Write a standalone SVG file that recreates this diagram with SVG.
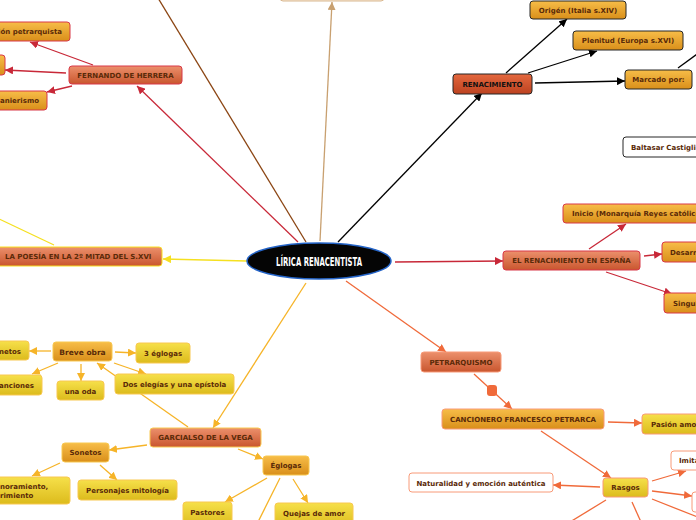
<svg xmlns="http://www.w3.org/2000/svg" width="696" height="520" viewBox="0 0 696 520">
<defs>
<linearGradient id="gMain" x1="0" y1="0" x2="0" y2="1"><stop offset="0" stop-color="#ec906c"/><stop offset="1" stop-color="#c9562e"/></linearGradient>
<linearGradient id="gRed" x1="0" y1="0" x2="0" y2="1"><stop offset="0" stop-color="#e4683e"/><stop offset="1" stop-color="#bc4220"/></linearGradient>
<linearGradient id="gOr" x1="0" y1="0" x2="0" y2="1"><stop offset="0" stop-color="#f7bd48"/><stop offset="1" stop-color="#d98f1a"/></linearGradient>
<linearGradient id="gYe" x1="0" y1="0" x2="0" y2="1"><stop offset="0" stop-color="#f6e04a"/><stop offset="1" stop-color="#dcbb1c"/></linearGradient>
<marker id="aRed" viewBox="0 0 8 8" refX="8" refY="4" markerWidth="8" markerHeight="8" markerUnits="userSpaceOnUse" orient="auto"><path d="M0,0 L8,4 L0,8 z" fill="#c82838"/></marker>
<marker id="aBlk" viewBox="0 0 8 8" refX="8" refY="4" markerWidth="8" markerHeight="8" markerUnits="userSpaceOnUse" orient="auto"><path d="M0,0 L8,4 L0,8 z" fill="#000"/></marker>
<marker id="aYel" viewBox="0 0 8 8" refX="8" refY="4" markerWidth="8" markerHeight="8" markerUnits="userSpaceOnUse" orient="auto"><path d="M0,0 L8,4 L0,8 z" fill="#f5e020"/></marker>
<marker id="aGld" viewBox="0 0 8 8" refX="8" refY="4" markerWidth="8" markerHeight="8" markerUnits="userSpaceOnUse" orient="auto"><path d="M0,0 L8,4 L0,8 z" fill="#f6b428"/></marker>
<marker id="aOrg" viewBox="0 0 8 8" refX="8" refY="4" markerWidth="8" markerHeight="8" markerUnits="userSpaceOnUse" orient="auto"><path d="M0,0 L8,4 L0,8 z" fill="#f06a3a"/></marker>
<marker id="aTan" viewBox="0 0 8 8" refX="8" refY="4" markerWidth="8" markerHeight="8" markerUnits="userSpaceOnUse" orient="auto"><path d="M0,0 L8,4 L0,8 z" fill="#c8a070"/></marker>
</defs>
<style>
text{font-family:"DejaVu Sans",Verdana,sans-serif;font-weight:bold;font-size:7px;fill:#5a2a08}
.c{text-anchor:middle}
.e{text-anchor:end}
rect{rx:3;ry:3;stroke-width:1}
.main{fill:url(#gMain)}
.red{fill:url(#gRed)}
.or{fill:url(#gOr)}
.ye{fill:url(#gYe)}
.wh{fill:#fff}
.sR{stroke:#d83848}
.sK{stroke:#262626}
.sY{stroke:#f8e020}
.sG{stroke:#f8c850}
.sO{stroke:#f89a78}
#connectors line{stroke-width:1.3;fill:none}
.lR{stroke:#c82838}
.lK{stroke:#000}
.lY{stroke:#f5e020}
.lG{stroke:#f6b428}
.lO{stroke:#f06a3a}
.lT{stroke:#c8a070}
.lB{stroke:#8b4513}
</style>
<rect width="696" height="520" fill="#fff" rx="0"/>
<g id="connectors">
<line class="lT" x1="320" y1="241" x2="332" y2="2" marker-end="url(#aTan)"/>
<line class="lB" x1="306" y1="242" x2="158" y2="-2"/>
<line class="lR" x1="298" y1="242" x2="137" y2="86" marker-end="url(#aRed)"/>
<line class="lR" x1="93" y1="65" x2="30" y2="42" marker-end="url(#aRed)"/>
<line class="lR" x1="66" y1="73" x2="5" y2="70" marker-end="url(#aRed)"/>
<line class="lR" x1="72" y1="86" x2="47" y2="92" marker-end="url(#aRed)"/>
<line class="lK" x1="338" y1="242" x2="482" y2="93" marker-end="url(#aBlk)"/>
<line class="lK" x1="506" y1="73" x2="567" y2="19" marker-end="url(#aBlk)"/>
<line class="lK" x1="528" y1="73" x2="597" y2="51" marker-end="url(#aBlk)"/>
<line class="lK" x1="535" y1="83" x2="625" y2="81" marker-end="url(#aBlk)"/>
<line class="lK" x1="678" y1="68" x2="700" y2="52"/>
<line class="lR" x1="395" y1="262" x2="503" y2="261" marker-end="url(#aRed)"/>
<line class="lR" x1="589" y1="249" x2="626" y2="224" marker-end="url(#aRed)"/>
<line class="lR" x1="644" y1="256" x2="662" y2="254" marker-end="url(#aRed)"/>
<line class="lR" x1="606" y1="272" x2="672" y2="294" marker-end="url(#aRed)"/>
<line class="lY" x1="247" y1="261" x2="163" y2="259" marker-end="url(#aYel)"/>
<line class="lY" x1="54" y1="245" x2="-5" y2="217"/>
<line class="lG" x1="306" y1="283" x2="213" y2="428" marker-end="url(#aGld)"/>
<line class="lG" x1="188" y1="427" x2="97" y2="363" marker-end="url(#aGld)"/>
<line class="lG" x1="51" y1="351" x2="29" y2="351" marker-end="url(#aGld)"/>
<line class="lG" x1="58" y1="363" x2="32" y2="374" marker-end="url(#aGld)"/>
<line class="lG" x1="81" y1="364" x2="81" y2="381" marker-end="url(#aGld)"/>
<line class="lG" x1="115" y1="352" x2="136" y2="353" marker-end="url(#aGld)"/>
<line class="lG" x1="114" y1="363" x2="146" y2="374" marker-end="url(#aGld)"/>
<line class="lG" x1="147" y1="445" x2="109" y2="450" marker-end="url(#aGld)"/>
<line class="lG" x1="60" y1="463" x2="32" y2="476" marker-end="url(#aGld)"/>
<line class="lG" x1="100" y1="465" x2="117" y2="480" marker-end="url(#aGld)"/>
<line class="lG" x1="238" y1="449" x2="263" y2="459" marker-end="url(#aGld)"/>
<line class="lG" x1="267" y1="478" x2="225" y2="502" marker-end="url(#aGld)"/>
<line class="lG" x1="280" y1="478" x2="258" y2="522"/>
<line class="lG" x1="293" y1="479" x2="308" y2="503" marker-end="url(#aGld)"/>
<line class="lO" x1="346" y1="281" x2="446" y2="352" marker-end="url(#aOrg)"/>
<line class="lO" x1="474" y1="374" x2="512" y2="409" marker-end="url(#aOrg)"/>
<rect x="487" y="385" width="10" height="11" rx="1" fill="#f06a3a"/>
<line class="lO" x1="608" y1="422" x2="642" y2="423" marker-end="url(#aOrg)"/>
<line class="lO" x1="541" y1="431" x2="611" y2="478" marker-end="url(#aOrg)"/>
<line class="lO" x1="600" y1="487" x2="553" y2="485" marker-end="url(#aOrg)"/>
<line class="lO" x1="652" y1="481" x2="686" y2="471" marker-end="url(#aOrg)"/>
<line class="lO" x1="652" y1="491" x2="692" y2="496" marker-end="url(#aOrg)"/>
<line class="lO" x1="652" y1="499" x2="700" y2="518"/>
<line class="lO" x1="606" y1="500" x2="570" y2="522"/>
<line class="lO" x1="632" y1="502" x2="641" y2="522"/>
</g>
<g id="n-top"><rect x="280" y="-20" width="104" height="21" fill="#f8e6d2" stroke="#d8b890"/></g>
<g id="n-herrera"><rect class="main sR" x="69" y="66" width="113" height="18"/><text class="c" x="125.5" y="77.5">FERNANDO DE HERRERA</text></g>
<g id="n-petrarquista"><rect class="or sR" x="-40" y="22" width="110" height="19"/><text class="e" x="62" y="34">ión petrarquista</text></g>
<g id="n-h2"><rect class="or sR" x="-40" y="55" width="45" height="20"/></g>
<g id="n-manierismo"><rect class="or sR" x="-40" y="91" width="87" height="19"/><text class="e" x="39" y="103">anierismo</text></g>
<g id="n-renacimiento"><rect class="red sK" x="453" y="74" width="79" height="20"/><text class="c" x="492.5" y="86.5" style="fill:#111">RENACIMIENTO</text></g>
<g id="n-origen"><rect class="or sK" x="530" y="1" width="96" height="18"/><text class="c" x="578" y="12.5">Origén (Italia s.XIV)</text></g>
<g id="n-plenitud"><rect class="or sK" x="573" y="31" width="110" height="19"/><text class="c" x="628" y="43">Plenitud (Europa s.XVI)</text></g>
<g id="n-marcado"><rect class="or sK" x="625" y="70" width="67" height="19"/><text class="c" x="658.5" y="82">Marcado por:</text></g>
<g id="n-baltasar"><rect class="wh sK" x="623" y="137" width="90" height="20"/><text x="631" y="149.5">Baltasar Castiglione</text></g>
<g id="n-espana"><rect class="main sR" x="503" y="251" width="137" height="19"/><text class="c" x="571.5" y="263">EL RENACIMIENTO EN ESPAÑA</text></g>
<g id="n-inicio"><rect class="or sR" x="563" y="204" width="150" height="19"/><text x="572" y="216">Inicio (Monarquía Reyes católicos)</text></g>
<g id="n-desarrollo"><rect class="or sR" x="662" y="242" width="60" height="20"/><text x="670" y="254.5">Desarrollo</text></g>
<g id="n-singular"><rect class="or sR" x="664" y="293" width="60" height="20"/><text x="673" y="306">Singularidad</text></g>
<g id="n-poesia"><rect class="main sY" x="-5" y="247" width="167" height="19"/><text x="5" y="259">LA POESÍA EN LA 2º MITAD DEL S.XVI</text></g>
<g id="n-garcilaso"><rect class="main sG" x="150" y="428" width="111" height="19"/><text class="c" x="205.5" y="440">GARCIALSO DE LA VEGA</text></g>
<g id="n-breve"><rect class="or sG" x="53" y="342" width="59" height="19"/><text class="c" x="82.5" y="354.5" style="font-size:7.5px">Breve obra</text></g>
<g id="n-sonetos1"><rect class="ye sG" x="-20" y="341" width="49" height="19"/><text class="e" x="21" y="353.5">Sonetos</text></g>
<g id="n-canciones"><rect class="ye sG" x="-30" y="375" width="72" height="20"/><text class="e" x="34" y="388">Canciones</text></g>
<g id="n-oda"><rect class="ye sG" x="57" y="381" width="47" height="19"/><text class="c" x="80.5" y="393.5">una oda</text></g>
<g id="n-3eglogas"><rect class="ye sG" x="136" y="343" width="54" height="20"/><text class="c" x="163" y="355.5">3 églogas</text></g>
<g id="n-elegias"><rect class="ye sG" x="115" y="374" width="119" height="20"/><text class="c" x="174.5" y="386.5">Dos elegías y una epístola</text></g>
<g id="n-sonetos2"><rect class="or sG" x="62" y="443" width="47" height="19"/><text class="c" x="85.5" y="455">Sonetos</text></g>
<g id="n-enamoramiento"><rect class="ye sG" x="-40" y="477" width="110" height="27"/><text x="0" y="488.5">noramiento,</text><text x="0" y="497.5">rimiento</text></g>
<g id="n-mitologia"><rect class="ye sG" x="78" y="480" width="99" height="20"/><text class="c" x="127.5" y="492.5">Personajes mitología</text></g>
<g id="n-eglogas"><rect class="or sG" x="263" y="456" width="46" height="19"/><text class="c" x="286" y="468">Églogas</text></g>
<g id="n-pastores"><rect class="ye sG" x="183" y="502" width="49" height="25"/><text class="c" x="207.5" y="514.5">Pastores</text></g>
<g id="n-quejas"><rect class="ye sG" x="275" y="503" width="78" height="25"/><text class="c" x="314" y="515.5">Quejas de amor</text></g>
<g id="n-petrarquismo"><rect class="main sO" x="421" y="352" width="80" height="20"/><text class="c" x="461" y="364.5">PETRARQUISMO</text></g>
<g id="n-cancionero"><rect class="or sO" x="442" y="409" width="162" height="20"/><text class="c" x="523" y="421.5">CANCIONERO FRANCESCO PETRARCA</text></g>
<g id="n-pasion"><rect class="ye sO" x="642" y="414" width="80" height="20"/><text x="651" y="426.5">Pasión amorosa</text></g>
<g id="n-rasgos"><rect class="ye sO" x="603" y="478" width="45" height="19"/><text class="c" x="625.5" y="490">Rasgos</text></g>
<g id="n-naturalidad"><rect class="wh sO" x="409" y="473" width="144" height="19"/><text class="c" x="481" y="485.5">Naturalidad y emoción auténtica</text></g>
<g id="n-imitacion"><rect class="wh sO" x="671" y="451" width="40" height="19"/><text x="679" y="463">Imitación</text></g>
<g id="n-r2"><rect class="wh sO" x="692" y="492" width="20" height="20"/></g>
<g id="n-center"><ellipse cx="319" cy="261" rx="72" ry="18" fill="#050505" stroke="#2464c8" stroke-width="1.5"/><text class="c" x="319" y="266" textLength="86" lengthAdjust="spacingAndGlyphs" style="fill:#fff;font-size:13px;font-family:'DejaVu Sans Condensed','DejaVu Sans',sans-serif">LÍRICA RENACENTISTA</text></g>
</svg>
